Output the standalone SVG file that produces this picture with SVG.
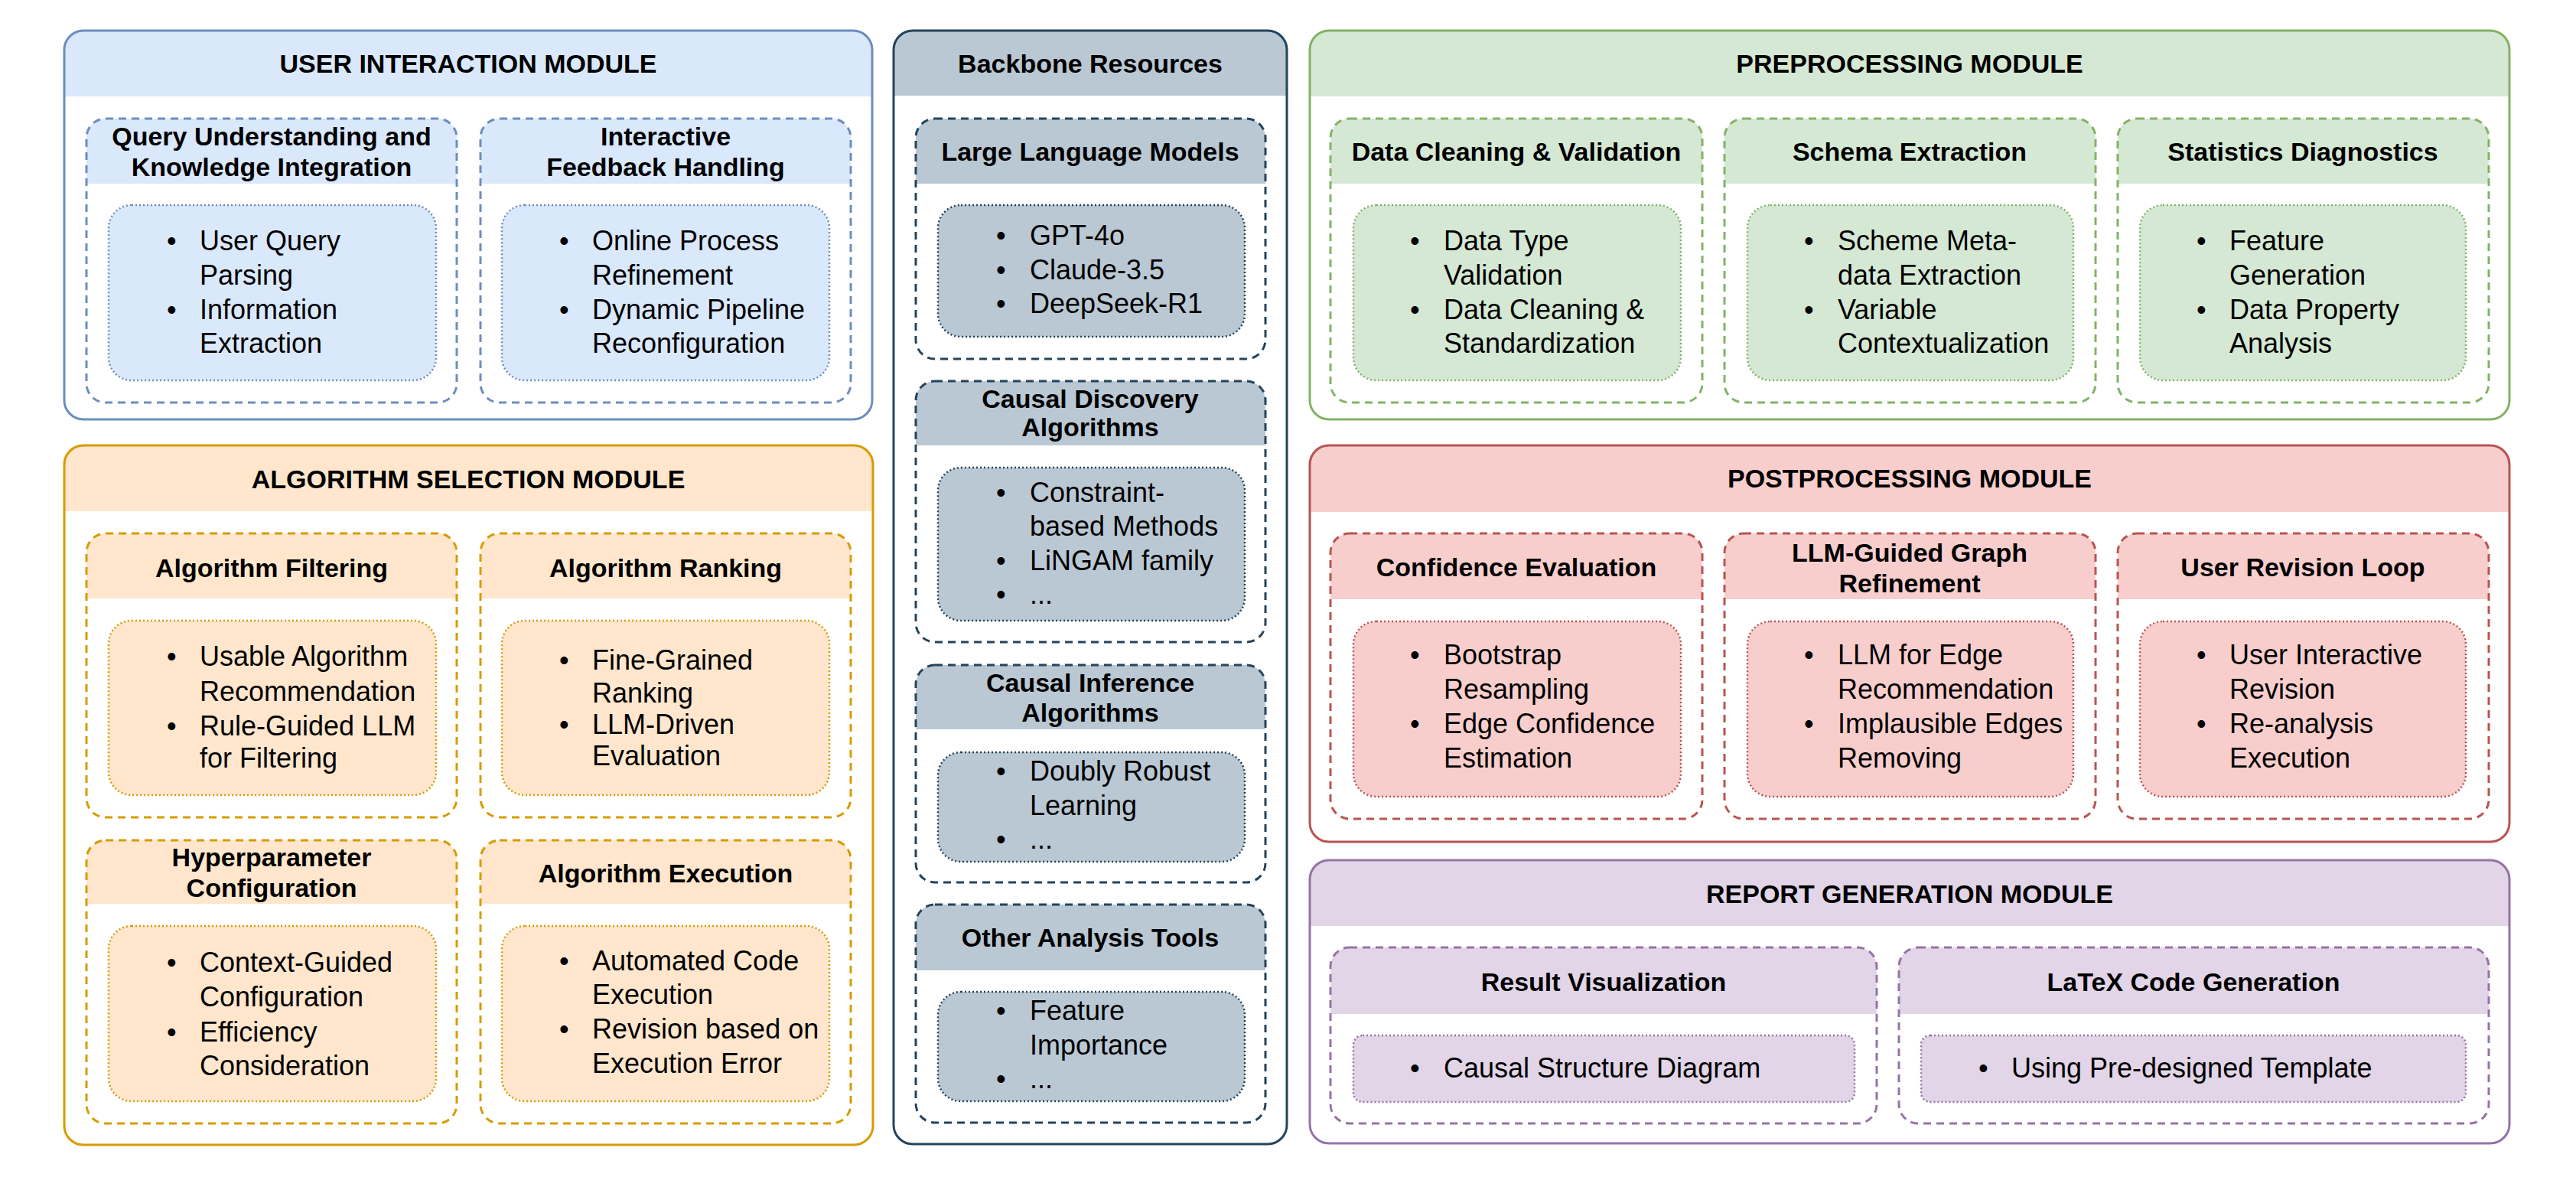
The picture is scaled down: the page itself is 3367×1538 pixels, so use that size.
<svg xmlns="http://www.w3.org/2000/svg" width="3367" height="1538" viewBox="0 0 3367 1538">
<style>
text{font-family:"Liberation Sans",Arial,sans-serif;fill:#000}
.mt{font-size:34px;font-weight:bold;text-anchor:middle}
.bt{font-size:36px}
.body{fill:#fff;stroke:none}
.frame{fill:none;stroke-width:3}
.dash{fill:none;stroke-width:3;stroke-dasharray:10 7}
.dot{stroke-width:2.5;stroke-dasharray:2 3}
.blue .hd,.blue .in{fill:#dae8fc}.blue .frame,.blue .dash,.blue .dot{stroke:#6c8ebf}
.orange .hd,.orange .in{fill:#ffe6cc}.orange .frame,.orange .dash,.orange .dot{stroke:#d79b00}
.slate .hd,.slate .in{fill:#bac8d3}.slate .frame,.slate .dash,.slate .dot{stroke:#23445d}
.green .hd,.green .in{fill:#d5e8d4}.green .frame,.green .dash,.green .dot{stroke:#82b366}
.red .hd,.red .in{fill:#f8cecc}.red .frame,.red .dash,.red .dot{stroke:#b85450}
.purple .hd,.purple .in{fill:#e1d5e7}.purple .frame,.purple .dash,.purple .dot{stroke:#9673a6}
</style>
<rect width="3367" height="1538" fill="#fff"/>

<!-- USER INTERACTION MODULE -->
<g id="user-interaction-module" class="blue">
<rect class="body" x="84" y="40" width="1056" height="508" rx="25"/>
<path class="hd" d="M84,126 V65 A25,25 0 0 1 109,40 H1115 A25,25 0 0 1 1140,65 V126 Z"/>
<rect class="frame" x="84" y="40" width="1056" height="508" rx="25"/>
<text class="mt" x="612" y="95">USER INTERACTION MODULE</text>
<g id="query-understanding">
<rect class="body" x="113" y="155" width="484" height="371" rx="25"/>
<path class="hd" d="M113,240 V180 A25,25 0 0 1 138,155 H572 A25,25 0 0 1 597,180 V240 Z"/>
<rect class="dash" x="113" y="155" width="484" height="371" rx="25"/>
<text class="mt" x="355" y="190">Query Understanding and</text>
<text class="mt" x="355" y="230">Knowledge Integration</text>
<rect class="in dot" x="142" y="268" width="428" height="229" rx="30"/>
<text class="bt" x="218" y="327">•</text><text class="bt" x="261" y="327">User Query</text>
<text class="bt" x="261" y="372">Parsing</text>
<text class="bt" x="218" y="417">•</text><text class="bt" x="261" y="417">Information</text>
<text class="bt" x="261" y="461">Extraction</text>
</g>
<g id="interactive-feedback">
<rect class="body" x="628" y="155" width="484" height="371" rx="25"/>
<path class="hd" d="M628,240 V180 A25,25 0 0 1 653,155 H1087 A25,25 0 0 1 1112,180 V240 Z"/>
<rect class="dash" x="628" y="155" width="484" height="371" rx="25"/>
<text class="mt" x="870" y="190">Interactive</text>
<text class="mt" x="870" y="230">Feedback Handling</text>
<rect class="in dot" x="656" y="268" width="428" height="229" rx="30"/>
<text class="bt" x="731" y="327">•</text><text class="bt" x="774" y="327">Online Process</text>
<text class="bt" x="774" y="372">Refinement</text>
<text class="bt" x="731" y="417">•</text><text class="bt" x="774" y="417">Dynamic Pipeline</text>
<text class="bt" x="774" y="461">Reconfiguration</text>
</g>
</g>

<!-- ALGORITHM SELECTION MODULE -->
<g id="algorithm-selection-module" class="orange">
<rect class="body" x="84" y="582" width="1057" height="914" rx="25"/>
<path class="hd" d="M84,668 V607 A25,25 0 0 1 109,582 H1116 A25,25 0 0 1 1141,607 V668 Z"/>
<rect class="frame" x="84" y="582" width="1057" height="914" rx="25"/>
<text class="mt" x="612" y="638">ALGORITHM SELECTION MODULE</text>
<g id="algorithm-filtering">
<rect class="body" x="113" y="697" width="484" height="371" rx="25"/>
<path class="hd" d="M113,782 V722 A25,25 0 0 1 138,697 H572 A25,25 0 0 1 597,722 V782 Z"/>
<rect class="dash" x="113" y="697" width="484" height="371" rx="25"/>
<text class="mt" x="355" y="754">Algorithm Filtering</text>
<rect class="in dot" x="142" y="811" width="428" height="228" rx="30"/>
<text class="bt" x="218" y="870">•</text><text class="bt" x="261" y="870">Usable Algorithm</text>
<text class="bt" x="261" y="916">Recommendation</text>
<text class="bt" x="218" y="961">•</text><text class="bt" x="261" y="961">Rule-Guided LLM</text>
<text class="bt" x="261" y="1003">for Filtering</text>
</g>
<g id="algorithm-ranking">
<rect class="body" x="628" y="697" width="484" height="371" rx="25"/>
<path class="hd" d="M628,782 V722 A25,25 0 0 1 653,697 H1087 A25,25 0 0 1 1112,722 V782 Z"/>
<rect class="dash" x="628" y="697" width="484" height="371" rx="25"/>
<text class="mt" x="870" y="754">Algorithm Ranking</text>
<rect class="in dot" x="656" y="811" width="428" height="228" rx="30"/>
<text class="bt" x="731" y="875">•</text><text class="bt" x="774" y="875">Fine-Grained</text>
<text class="bt" x="774" y="918">Ranking</text>
<text class="bt" x="731" y="959">•</text><text class="bt" x="774" y="959">LLM-Driven</text>
<text class="bt" x="774" y="1000">Evaluation</text>
</g>
<g id="hyperparameter-configuration">
<rect class="body" x="113" y="1098" width="484" height="370" rx="25"/>
<path class="hd" d="M113,1181 V1123 A25,25 0 0 1 138,1098 H572 A25,25 0 0 1 597,1123 V1181 Z"/>
<rect class="dash" x="113" y="1098" width="484" height="370" rx="25"/>
<text class="mt" x="355" y="1132">Hyperparameter</text>
<text class="mt" x="355" y="1172">Configuration</text>
<rect class="in dot" x="142" y="1210" width="428" height="229" rx="30"/>
<text class="bt" x="218" y="1270">•</text><text class="bt" x="261" y="1270">Context-Guided</text>
<text class="bt" x="261" y="1315">Configuration</text>
<text class="bt" x="218" y="1361">•</text><text class="bt" x="261" y="1361">Efficiency</text>
<text class="bt" x="261" y="1405">Consideration</text>
</g>
<g id="algorithm-execution">
<rect class="body" x="628" y="1098" width="484" height="370" rx="25"/>
<path class="hd" d="M628,1181 V1123 A25,25 0 0 1 653,1098 H1087 A25,25 0 0 1 1112,1123 V1181 Z"/>
<rect class="dash" x="628" y="1098" width="484" height="370" rx="25"/>
<text class="mt" x="870" y="1153">Algorithm Execution</text>
<rect class="in dot" x="656" y="1210" width="428" height="229" rx="30"/>
<text class="bt" x="731" y="1268">•</text><text class="bt" x="774" y="1268">Automated Code</text>
<text class="bt" x="774" y="1312">Execution</text>
<text class="bt" x="731" y="1357">•</text><text class="bt" x="774" y="1357">Revision based on</text>
<text class="bt" x="774" y="1402">Execution Error</text>
</g>
</g>

<!-- BACKBONE RESOURCES -->
<g id="backbone-resources" class="slate">
<rect class="body" x="1168" y="40" width="514" height="1455" rx="25"/>
<path class="hd" d="M1168,125 V65 A25,25 0 0 1 1193,40 H1657 A25,25 0 0 1 1682,65 V125 Z"/>
<rect class="frame" x="1168" y="40" width="514" height="1455" rx="25"/>
<text class="mt" x="1425" y="95">Backbone Resources</text>
<g id="large-language-models">
<rect class="body" x="1197" y="155" width="457" height="314" rx="25"/>
<path class="hd" d="M1197,240 V180 A25,25 0 0 1 1222,155 H1629 A25,25 0 0 1 1654,180 V240 Z"/>
<rect class="dash" x="1197" y="155" width="457" height="314" rx="25"/>
<text class="mt" x="1425" y="210">Large Language Models</text>
<rect class="in dot" x="1226" y="268" width="401" height="172" rx="30"/>
<text class="bt" x="1302" y="320">•</text><text class="bt" x="1346" y="320">GPT-4o</text>
<text class="bt" x="1302" y="365">•</text><text class="bt" x="1346" y="365">Claude-3.5</text>
<text class="bt" x="1302" y="409">•</text><text class="bt" x="1346" y="409">DeepSeek-R1</text>
</g>
<g id="causal-discovery-algorithms">
<rect class="body" x="1197" y="498" width="457" height="341" rx="25"/>
<path class="hd" d="M1197,582 V523 A25,25 0 0 1 1222,498 H1629 A25,25 0 0 1 1654,523 V582 Z"/>
<rect class="dash" x="1197" y="498" width="457" height="341" rx="25"/>
<text class="mt" x="1425" y="533">Causal Discovery</text>
<text class="mt" x="1425" y="570">Algorithms</text>
<rect class="in dot" x="1226" y="611" width="401" height="200" rx="30"/>
<text class="bt" x="1302" y="656">•</text><text class="bt" x="1346" y="656">Constraint-</text>
<text class="bt" x="1346" y="700">based Methods</text>
<text class="bt" x="1302" y="745">•</text><text class="bt" x="1346" y="745">LiNGAM family</text>
<text class="bt" x="1302" y="789">•</text><text class="bt" x="1346" y="789">...</text>
</g>
<g id="causal-inference-algorithms">
<rect class="body" x="1197" y="869" width="457" height="284" rx="25"/>
<path class="hd" d="M1197,953 V894 A25,25 0 0 1 1222,869 H1629 A25,25 0 0 1 1654,894 V953 Z"/>
<rect class="dash" x="1197" y="869" width="457" height="284" rx="25"/>
<text class="mt" x="1425" y="904">Causal Inference</text>
<text class="mt" x="1425" y="943">Algorithms</text>
<rect class="in dot" x="1226" y="983" width="401" height="143" rx="30"/>
<text class="bt" x="1302" y="1020">•</text><text class="bt" x="1346" y="1020">Doubly Robust</text>
<text class="bt" x="1346" y="1065">Learning</text>
<text class="bt" x="1302" y="1109">•</text><text class="bt" x="1346" y="1109">...</text>
</g>
<g id="other-analysis-tools">
<rect class="body" x="1197" y="1182" width="457" height="285" rx="25"/>
<path class="hd" d="M1197,1268 V1207 A25,25 0 0 1 1222,1182 H1629 A25,25 0 0 1 1654,1207 V1268 Z"/>
<rect class="dash" x="1197" y="1182" width="457" height="285" rx="25"/>
<text class="mt" x="1425" y="1237">Other Analysis Tools</text>
<rect class="in dot" x="1226" y="1296" width="401" height="143" rx="30"/>
<text class="bt" x="1302" y="1333">•</text><text class="bt" x="1346" y="1333">Feature</text>
<text class="bt" x="1346" y="1378">Importance</text>
<text class="bt" x="1302" y="1422">•</text><text class="bt" x="1346" y="1422">...</text>
</g>
</g>

<!-- PREPROCESSING MODULE -->
<g id="preprocessing-module" class="green">
<rect class="body" x="1712" y="40" width="1568" height="508" rx="25"/>
<path class="hd" d="M1712,126 V65 A25,25 0 0 1 1737,40 H3255 A25,25 0 0 1 3280,65 V126 Z"/>
<rect class="frame" x="1712" y="40" width="1568" height="508" rx="25"/>
<text class="mt" x="2496" y="95">PREPROCESSING MODULE</text>
<g id="data-cleaning-validation">
<rect class="body" x="1739" y="155" width="486" height="371" rx="25"/>
<path class="hd" d="M1739,240 V180 A25,25 0 0 1 1764,155 H2200 A25,25 0 0 1 2225,180 V240 Z"/>
<rect class="dash" x="1739" y="155" width="486" height="371" rx="25"/>
<text class="mt" x="1982" y="210">Data Cleaning &amp; Validation</text>
<rect class="in dot" x="1769" y="268" width="428" height="229" rx="30"/>
<text class="bt" x="1843" y="327">•</text><text class="bt" x="1887" y="327">Data Type</text>
<text class="bt" x="1887" y="372">Validation</text>
<text class="bt" x="1843" y="417">•</text><text class="bt" x="1887" y="417">Data Cleaning &amp;</text>
<text class="bt" x="1887" y="461">Standardization</text>
</g>
<g id="schema-extraction">
<rect class="body" x="2254" y="155" width="485" height="371" rx="25"/>
<path class="hd" d="M2254,240 V180 A25,25 0 0 1 2279,155 H2714 A25,25 0 0 1 2739,180 V240 Z"/>
<rect class="dash" x="2254" y="155" width="485" height="371" rx="25"/>
<text class="mt" x="2496" y="210">Schema Extraction</text>
<rect class="in dot" x="2284" y="268" width="426" height="229" rx="30"/>
<text class="bt" x="2358" y="327">•</text><text class="bt" x="2402" y="327">Scheme Meta-</text>
<text class="bt" x="2402" y="372">data Extraction</text>
<text class="bt" x="2358" y="417">•</text><text class="bt" x="2402" y="417">Variable</text>
<text class="bt" x="2402" y="461">Contextualization</text>
</g>
<g id="statistics-diagnostics">
<rect class="body" x="2768" y="155" width="485" height="371" rx="25"/>
<path class="hd" d="M2768,240 V180 A25,25 0 0 1 2793,155 H3228 A25,25 0 0 1 3253,180 V240 Z"/>
<rect class="dash" x="2768" y="155" width="485" height="371" rx="25"/>
<text class="mt" x="3010" y="210">Statistics Diagnostics</text>
<rect class="in dot" x="2797" y="268" width="426" height="229" rx="30"/>
<text class="bt" x="2871" y="327">•</text><text class="bt" x="2914" y="327">Feature</text>
<text class="bt" x="2914" y="372">Generation</text>
<text class="bt" x="2871" y="417">•</text><text class="bt" x="2914" y="417">Data Property</text>
<text class="bt" x="2914" y="461">Analysis</text>
</g>
</g>

<!-- POSTPROCESSING MODULE -->
<g id="postprocessing-module" class="red">
<rect class="body" x="1712" y="582" width="1568" height="518" rx="25"/>
<path class="hd" d="M1712,669 V607 A25,25 0 0 1 1737,582 H3255 A25,25 0 0 1 3280,607 V669 Z"/>
<rect class="frame" x="1712" y="582" width="1568" height="518" rx="25"/>
<text class="mt" x="2496" y="637">POSTPROCESSING MODULE</text>
<g id="confidence-evaluation">
<rect class="body" x="1739" y="697" width="486" height="373" rx="25"/>
<path class="hd" d="M1739,783 V722 A25,25 0 0 1 1764,697 H2200 A25,25 0 0 1 2225,722 V783 Z"/>
<rect class="dash" x="1739" y="697" width="486" height="373" rx="25"/>
<text class="mt" x="1982" y="753">Confidence Evaluation</text>
<rect class="in dot" x="1769" y="812" width="428" height="229" rx="30"/>
<text class="bt" x="1843" y="868">•</text><text class="bt" x="1887" y="868">Bootstrap</text>
<text class="bt" x="1887" y="913">Resampling</text>
<text class="bt" x="1843" y="958">•</text><text class="bt" x="1887" y="958">Edge Confidence</text>
<text class="bt" x="1887" y="1003">Estimation</text>
</g>
<g id="llm-guided-graph-refinement">
<rect class="body" x="2254" y="697" width="485" height="373" rx="25"/>
<path class="hd" d="M2254,783 V722 A25,25 0 0 1 2279,697 H2714 A25,25 0 0 1 2739,722 V783 Z"/>
<rect class="dash" x="2254" y="697" width="485" height="373" rx="25"/>
<text class="mt" x="2496" y="734">LLM-Guided Graph</text>
<text class="mt" x="2496" y="774">Refinement</text>
<rect class="in dot" x="2284" y="812" width="426" height="229" rx="30"/>
<text class="bt" x="2358" y="868">•</text><text class="bt" x="2402" y="868">LLM for Edge</text>
<text class="bt" x="2402" y="913">Recommendation</text>
<text class="bt" x="2358" y="958">•</text><text class="bt" x="2402" y="958">Implausible Edges</text>
<text class="bt" x="2402" y="1003">Removing</text>
</g>
<g id="user-revision-loop">
<rect class="body" x="2768" y="697" width="485" height="373" rx="25"/>
<path class="hd" d="M2768,783 V722 A25,25 0 0 1 2793,697 H3228 A25,25 0 0 1 3253,722 V783 Z"/>
<rect class="dash" x="2768" y="697" width="485" height="373" rx="25"/>
<text class="mt" x="3010" y="753">User Revision Loop</text>
<rect class="in dot" x="2797" y="812" width="426" height="229" rx="30"/>
<text class="bt" x="2871" y="868">•</text><text class="bt" x="2914" y="868">User Interactive</text>
<text class="bt" x="2914" y="913">Revision</text>
<text class="bt" x="2871" y="958">•</text><text class="bt" x="2914" y="958">Re-analysis</text>
<text class="bt" x="2914" y="1003">Execution</text>
</g>
</g>

<!-- REPORT GENERATION MODULE -->
<g id="report-generation-module" class="purple">
<rect class="body" x="1712" y="1124" width="1568" height="370" rx="25"/>
<path class="hd" d="M1712,1210 V1149 A25,25 0 0 1 1737,1124 H3255 A25,25 0 0 1 3280,1149 V1210 Z"/>
<rect class="frame" x="1712" y="1124" width="1568" height="370" rx="25"/>
<text class="mt" x="2496" y="1180">REPORT GENERATION MODULE</text>
<g id="result-visualization">
<rect class="body" x="1739" y="1238" width="714" height="230" rx="25"/>
<path class="hd" d="M1739,1325 V1263 A25,25 0 0 1 1764,1238 H2428 A25,25 0 0 1 2453,1263 V1325 Z"/>
<rect class="dash" x="1739" y="1238" width="714" height="230" rx="25"/>
<text class="mt" x="2096" y="1295">Result Visualization</text>
<rect class="in dot" x="1769" y="1353" width="655" height="87" rx="12"/>
<text class="bt" x="1843" y="1408">•</text><text class="bt" x="1887" y="1408">Causal Structure Diagram</text>
</g>
<g id="latex-code-generation">
<rect class="body" x="2482" y="1238" width="771" height="230" rx="25"/>
<path class="hd" d="M2482,1325 V1263 A25,25 0 0 1 2507,1238 H3228 A25,25 0 0 1 3253,1263 V1325 Z"/>
<rect class="dash" x="2482" y="1238" width="771" height="230" rx="25"/>
<text class="mt" x="2867" y="1295">LaTeX Code Generation</text>
<rect class="in dot" x="2511" y="1353" width="712" height="87" rx="12"/>
<text class="bt" x="2586" y="1408">•</text><text class="bt" x="2629" y="1408">Using Pre-designed Template</text>
</g>
</g>

<g id="connectors"></g>
</svg>
